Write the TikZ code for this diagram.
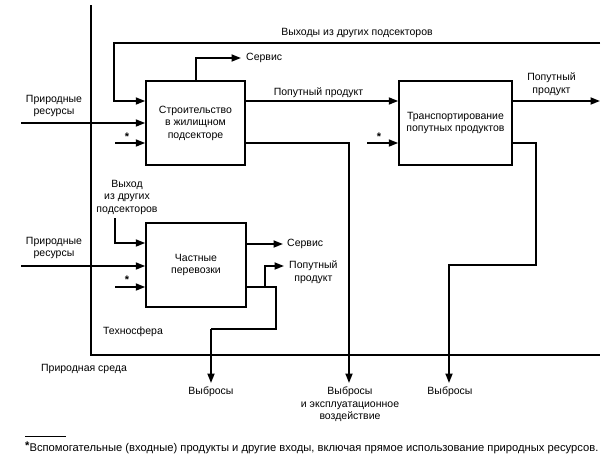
\documentclass[tikz,border=0pt]{standalone}
\usepackage{fontspec}
\setmainfont{Liberation Sans}
\usetikzlibrary{arrows.meta}
\begin{document}
\begin{tikzpicture}[x=1pt,y=-1pt,
  ln/.style={line width=1.7pt},
  arr/.style={ln,-{Triangle[length=9.5pt,width=7pt]}},
  blk/.style={draw,line width=1.5pt,align=center,inner sep=0pt,font=\fontsize{10.5}{12.5}\selectfont},
  lbl/.style={align=center,inner sep=0pt,font=\fontsize{10.5}{12.5}\selectfont},
  ast/.style={inner sep=0pt,font=\fontsize{11}{12}\selectfont\bfseries}]
\useasboundingbox (0,0) rectangle (605,458);
% boxes
\node[blk,minimum width=99pt,minimum height=84pt] (b1) at (195.5,123) {Строительство\\в жилищном\\подсекторе};
\node[blk,minimum width=113pt,minimum height=84pt] (b2) at (455.5,123) {Транспортирование\\попутных продуктов};
\node[blk,minimum width=100pt,minimum height=84pt] (b3) at (196,265) {Частные\\перевозки};
% technosphere frame
\coordinate (fT) at (91,5);
\coordinate (fB) at (91,355);
\coordinate (fR) at (600,355);
\draw[ln] (fT) -- (fB) -- (fR);
% labels
\node[lbl] (ltop) at (357,33) {Выходы из других подсекторов};
\node[lbl] (lnr1) at (54,106) {Природные\\ресурсы};
\node[lbl] (lnr2) at (54,248) {Природные\\ресурсы};
\node[lbl,anchor=west] (ls1) at (246,58) {Сервис};
\node[lbl] (lpp1) at (318.5,93) {Попутный продукт};
\node[lbl] (lpp2) at (551.5,84) {Попутный\\продукт};
\node[lbl] (lvx) at (127,197) {Выход\\из других\\подсекторов};
\node[lbl,anchor=west] (ls3) at (287,244) {Сервис};
\node[lbl,anchor=west] (lpp3) at (289,272) {Попутный\\продукт};
\node[lbl] (ltech) at (133,332) {Техносфера};
\node[lbl] (lsreda) at (84,369) {Природная среда};
\node[lbl] (lv1) at (211,392) {Выбросы};
\node[lbl] (lv2) at (350,404.5) {Выбросы\\и эксплуатационное\\воздействие};
\node[lbl] (lv3) at (450,392) {Выбросы};
\node[ast] (a1) at (127,137) {*};
\node[ast] (a2) at (379,137) {*};
\node[ast] (a3) at (127,280) {*};
% free ends
\coordinate (topR) at (600,43);
\coordinate (nr1) at (21,123);
\coordinate (nr2) at (21,266);
\coordinate (s1) at (115,143);
\coordinate (s2) at (367,143);
\coordinate (s3) at (115,287);
\coordinate (sv1) at (241,58);
\coordinate (out2) at (600,101);
\coordinate (vx) at (115,218);
\coordinate (sv3) at (283,244);
\coordinate (pp3) at (284,266);
\coordinate (e1) at (211,383);
\coordinate (e2) at (349,383);
\coordinate (e3) at (449,383);
% connectors box1
\draw[arr] (topR) -| (114,101) -- (b1.west |- 0,101);
\draw[arr] (nr1) -- (b1.west |- nr1);
\draw[arr] (s1) -- (b1.west |- s1);
\draw[arr] (b1.north -| 196,0) |- (sv1);
\draw[arr] (b1.east |- 0,101) -- (b2.west |- 0,101);
\draw[arr] (b1.east |- 0,143) -| (e2);
% box2
\draw[arr] (s2) -- (b2.west |- s2);
\draw[arr] (b2.east |- out2) -- (out2);
\draw[arr] (b2.east |- 0,143) -- (536,143) -- (536,265) -| (e3);
% box3
\draw[arr] (vx) |- (b3.west |- 0,243);
\draw[arr] (nr2) -- (b3.west |- nr2);
\draw[arr] (s3) -- (b3.west |- s3);
\draw[arr] (b3.east |- sv3) -- (sv3);
\draw[ln] (b3.east |- 0,287) -- (276,287) -- (276,329) -- (211,329);
\draw[arr] (211,329) -- (e1);
\draw[arr] (265,287) |- (pp3);
% footnote
\coordinate (fnA) at (25,436);
\coordinate (fnB) at (66,436);
\draw[line width=0.8pt] (fnA) -- (fnB);
\node[lbl,anchor=west,font=\fontsize{11.2}{13}\selectfont] (fn) at (25,448) {\raisebox{0.35ex}{\bfseries *}Вспомогательные (входные) продукты и другие входы, включая прямое использование природных ресурсов.};
\end{tikzpicture}
\end{document}
